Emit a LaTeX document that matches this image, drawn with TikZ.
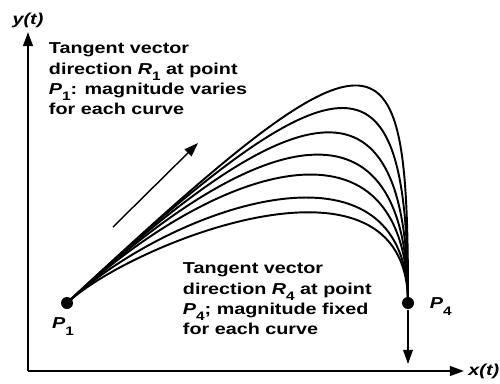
\documentclass[tikz,border=0pt]{standalone}
\usepackage{fontspec}
\usepackage{graphicx}
\usetikzlibrary{arrows.meta,calc,positioning}
\newfontfamily\lblfont{Liberation Sans}
\newcommand\wide[1]{\scalebox{1.25}[1]{#1}}
\newcommand\vsub[2]{\textit{#1}\raisebox{-0.4em}{\upshape\fontsize{7}{7}\selectfont #2}}

\tikzset{
  axis/.style={line width=1.2pt, -{Triangle[length=8pt,width=5.5pt]}},
  vec/.style={line width=0.8pt, -{Triangle[length=8pt,width=5.5pt]}},
  dot/.style={circle, fill, inner sep=0pt, minimum size=0.24cm},
  lbl/.style={inner sep=0pt, font=\lblfont\bfseries\fontsize{9}{11.4}\selectfont},
  axlabel/.style={inner sep=0pt, font=\lblfont\bfseries\itshape\fontsize{9}{11}\selectfont}
}

\begin{document}
\begin{tikzpicture}[x=0.02cm, y=-0.02cm, line width=1.1pt]
  \useasboundingbox (0,0) rectangle (500,383);
  % axes
  \coordinate (org) at (28,371);
  \coordinate (ytip) at (28,32);
  \coordinate (xtip) at (464,371);
  \draw[axis] (org) -- (ytip);
  \draw[axis] (org) -- (xtip);
  \node[axlabel, above=2pt of ytip] (ylab) {\wide{y(t)}};
  \node[axlabel, right=2pt of xtip] (xlab) {\wide{x(t)}};

  % end points
  \node[dot] (p1) at (67,303) {};
  \node[dot] (p4) at (408,303) {};
  \node[axlabel, anchor=north] (p1lab) at (63,317) {\wide{\vsub{P}{1}}};
  \node[axlabel, anchor=north west] (p4lab) at (429,297) {\wide{\vsub{P}{4}}};

  % family of curves: R1 grows, R4 about the same
  \foreach \u/\a in {60/170, 95/180, 140/200, 180/215, 220/235, 265/255, 300/280}{
    \draw (p1.center) .. controls ($(p1.center)+(1.07*\u,-\u)$) and ($(p4.center)+(0,-\a)$) .. (p4.center);
  }

  % tangent vectors
  \coordinate (r1tail) at (113,227);
  \coordinate (r1tip) at (198,143);
  \draw[vec] (r1tail) -- (r1tip);
  \coordinate (r4tip) at (408,364);
  \draw[vec] (p4) -- (r4tip);

  % notes
  \node[lbl, anchor=north west] (note1) at (48,39)
    {\wide{\begin{tabular}{@{}l@{}}Tangent vector\\direction \vsub{R}{1} at point\\\vsub{P}{1}: magnitude varies\\for each curve\end{tabular}}};
  \node[lbl, anchor=north west] (note4) at (182,259)
    {\wide{\begin{tabular}{@{}l@{}}Tangent vector\\direction \vsub{R}{4} at point\\\vsub{P}{4}; magnitude fixed\\for each curve\end{tabular}}};
\end{tikzpicture}
\end{document}
